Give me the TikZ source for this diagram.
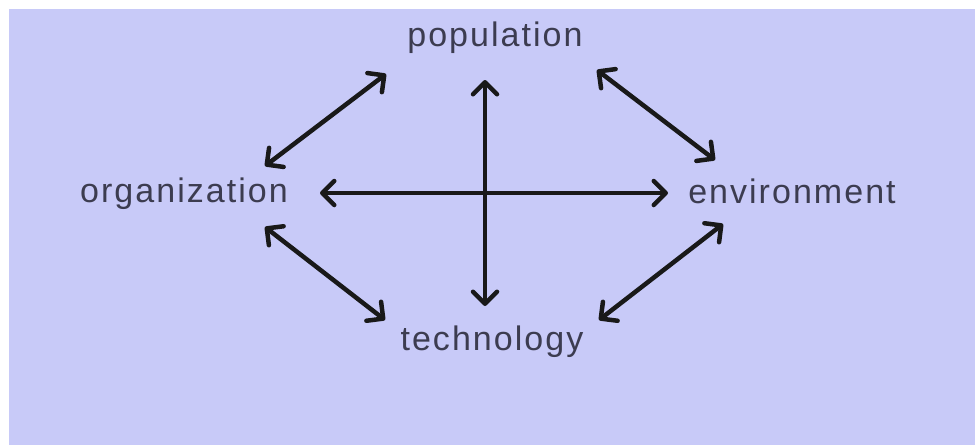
\documentclass[tikz,border=0pt]{standalone}
\usepackage{fontspec}
\setmainfont{Liberation Sans}
\usetikzlibrary{arrows.meta}
\definecolor{bg}{HTML}{C8CAF8}
\definecolor{txt}{HTML}{3C3C50}
\tikzset{
  lbl/.style={text=txt, font=\fontsize{34}{40}\selectfont\addfontfeature{LetterSpace=6}, inner sep=0pt},
  tip/.style={Straight Barb[length=12pt,width=24pt,line width=4.5pt,round]},
  link/.style={line width=4.5pt, black!90, {Straight Barb[length=12pt,width=24pt,line width=4.5pt,round]}-{Straight Barb[length=12pt,width=24pt,line width=4.5pt,round]}}
}
\begin{document}
\begin{tikzpicture}[x=1pt,y=-1pt]
\useasboundingbox (0,0) rectangle (975,445);
\fill[white] (0,0) rectangle (975,445);
\fill[bg] (9,9) rectangle (975,445);
\node[lbl] (pop) at (495,38) {population};
\node[lbl] (org) at (184,194) {organization};
\node[lbl] (env) at (792,191) {environment};
\node[lbl] (tec) at (492,342) {technology};
\coordinate (vt) at (485,80);
\coordinate (vb) at (485,306);
\coordinate (hl) at (320,193);
\coordinate (hr) at (668,193);
\coordinate (a1) at (386,74);
\coordinate (a2) at (265,166);
\coordinate (b1) at (597,70);
\coordinate (b2) at (715,160);
\coordinate (c1) at (265,227);
\coordinate (c2) at (385,320);
\coordinate (d1) at (723,224);
\coordinate (d2) at (599,320);
\draw[link] (vt) -- (vb);
\draw[link] (hl) -- (hr);
\draw[link] (a1) -- (a2);
\draw[link] (b1) -- (b2);
\draw[link] (c1) -- (c2);
\draw[link] (d1) -- (d2);
\end{tikzpicture}
\end{document}
